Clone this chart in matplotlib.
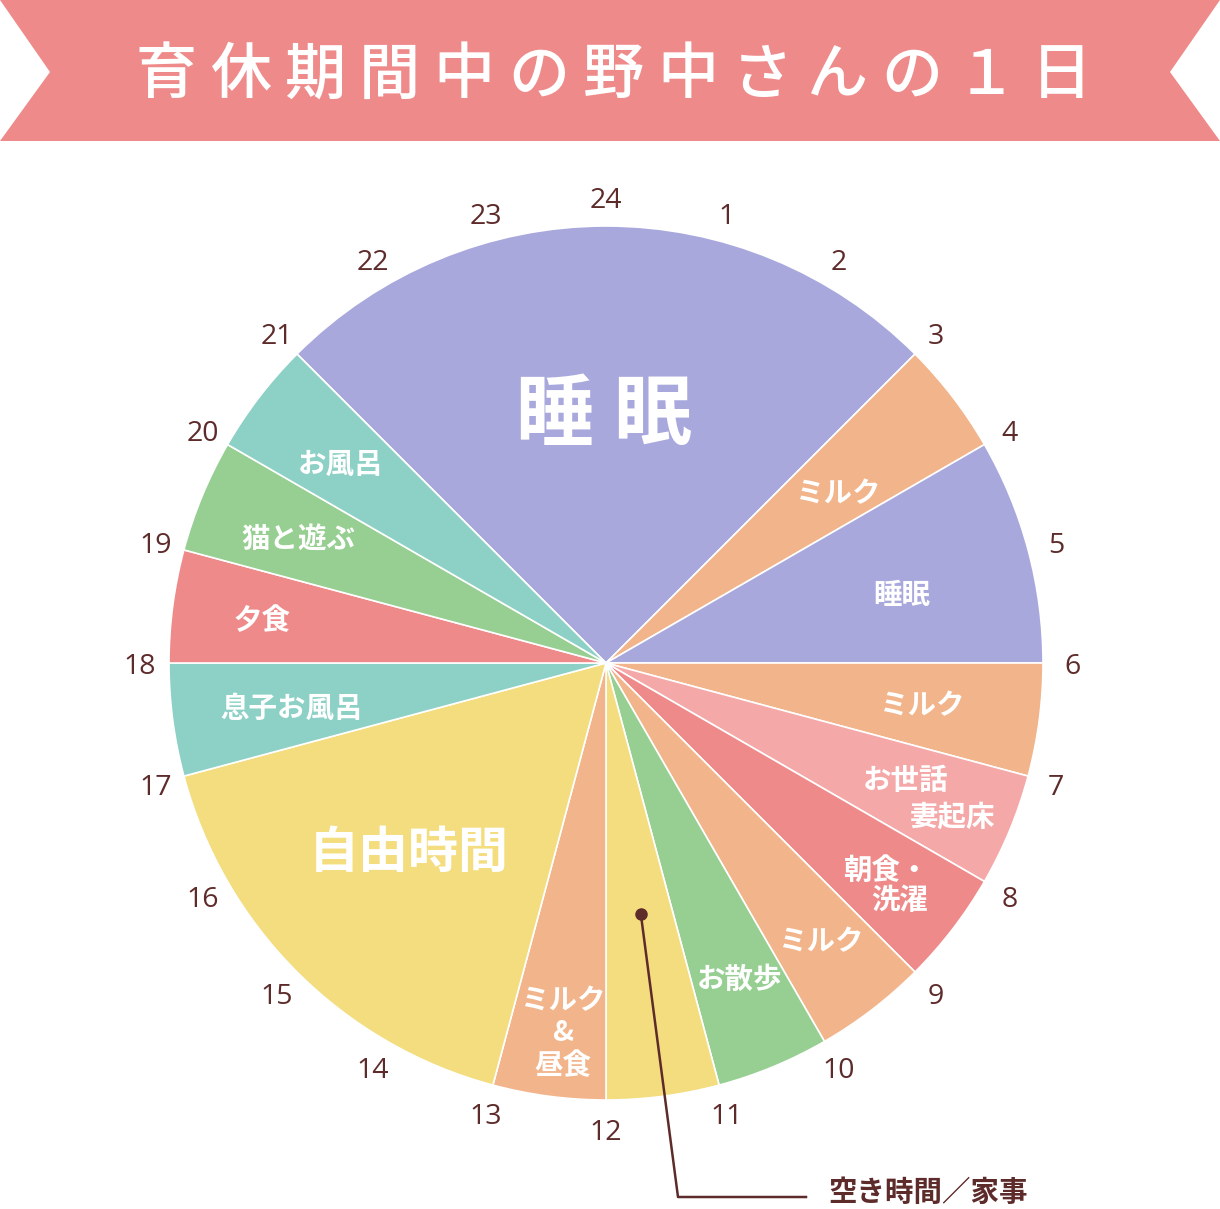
import numpy as np
import matplotlib.pyplot as plt
from matplotlib.patches import Polygon

# --- data: one day, starting from 21:00, clockwise ---
activities = ["睡眠", "ミルク", "睡眠", "ミルク", "お世話\n妻起床", "朝食・\n洗濯", "ミルク",
              "お散歩", "", "ミルク\n&\n昼食", "自由時間", "息子お風呂", "夕食", "猫と遊ぶ", "お風呂"]
hours = [6, 1, 2, 1, 1, 1, 1, 1, 1, 1, 4, 1, 1, 1, 1]
start_hour = 21
colors = ["#A9A8DD", "#F2B48A", "#A9A8DD", "#F2B48A", "#F5A8A8", "#EF8A8A", "#F2B48A",
          "#96CF91", "#F3DD7E", "#F2B48A", "#F3DD7E", "#8DD1C6", "#EF8A8A", "#96CF91", "#8DD1C6"]
hour_ticks = [str(h) for h in range(1, 25)]
title = "育休期間中の野中さんの１日"
callout = "空き時間／家事"

# label placement: fraction of radius, and angle nudge (deg) from the wedge middle
label_r = [0.572, 0.661, 0.696, 0.729, 0.80, 0.815, 0.80, 0.78, 0.58, 0.846, 0.623, 0.727, 0.794, 0.76, 0.762]
label_da = [-0.7, 0.9, 1.7, -0.3, 0.0, 0.7, -0.4, -0.6, -0.4, -0.8, 1.6, -0.3, 0.0, -0.2, -0.3]

W, H = 1220, 1209
cx, cy, R = 606, 663, 437
BROWN = "#5E2B2B"
JP = ["Noto Sans CJK JP", "DejaVu Sans"]

fig = plt.figure(figsize=(W / 100, H / 100), dpi=100)
ax = fig.add_axes([0, 0, 1, 1])

# banner
ax.add_patch(Polygon([(0, 0), (W, 0), (1170, 72), (W, 141), (0, 141), (50, 72)],
                     closed=True, facecolor="#EF8A8A", edgecolor="none"))


def spaced(x, y, s, pitch, **kw):
    n = len(s)
    for i, ch in enumerate(s):
        ax.text(x + (i - (n - 1) / 2) * pitch, y, ch, ha="center", va="center", **kw)


spaced(613.5, 76, title, 74.6, fontsize=44, color="white", family=JP, fontweight=500)

# pie (y axis is inverted, so counterclock in data = clockwise on screen)
ax.pie(hours, colors=colors, center=(cx, cy), radius=R, startangle=225, counterclock=True,
       wedgeprops=dict(edgecolor="white", linewidth=1.2))

# hour labels around the clock
for i, t in enumerate(hour_ticks):
    a = np.radians((i + 1) * 15)
    ax.text(cx + 466 * np.sin(a), cy - 466 * np.cos(a) + 4, t, ha="center", va="center",
            fontsize=20.5, color=BROWN, family="Open Sans", fontweight=500)

# wedge labels
cum = start_hour
for i, (lab, h) in enumerate(zip(activities, hours)):
    a = np.radians((cum + h / 2) * 15 + label_da[i])
    cum += h
    x = cx + label_r[i] * R * np.sin(a)
    y = cy - label_r[i] * R * np.cos(a) + 3
    kw = dict(color="white", family=JP, fontweight="bold")
    if i == 0:
        spaced(x, y, lab, 98, fontsize=56, **kw)
    elif lab == "自由時間":
        spaced(x, y, lab, 49.5, fontsize=36, **kw)
    elif lab == "":
        # callout for the unlabeled slot
        y -= 3
        ax.plot([x, 678, 806], [y, 1197, 1197], color=BROWN, lw=1.8)
        ax.plot(x, y, "o", color=BROWN, ms=8)
        ax.text(828, 1193, callout, ha="left", va="center", fontsize=20.5,
                color=BROWN, family=JP, fontweight="bold")
    elif lab.startswith("お世話"):
        l1, l2 = lab.split("\n")
        ax.text(x - 23.5, y - 18.5, l1, ha="center", va="center", fontsize=20.5, **kw)
        ax.text(x + 23.5, y + 18.5, l2, ha="center", va="center", fontsize=20.5, **kw)
    elif lab.startswith("朝食"):
        ax.text(x, y, lab, ha="center", va="center", multialignment="right",
                linespacing=1.1, fontsize=20.5, **kw)
    else:
        ax.text(x, y, lab, ha="center", va="center", multialignment="center",
                linespacing=1.2, fontsize=20.5, **kw)

ax.set_xlim(0, W)
ax.set_ylim(H, 0)
ax.set_aspect("auto")
ax.axis("off")

fig.savefig("out.png", dpi=100)
